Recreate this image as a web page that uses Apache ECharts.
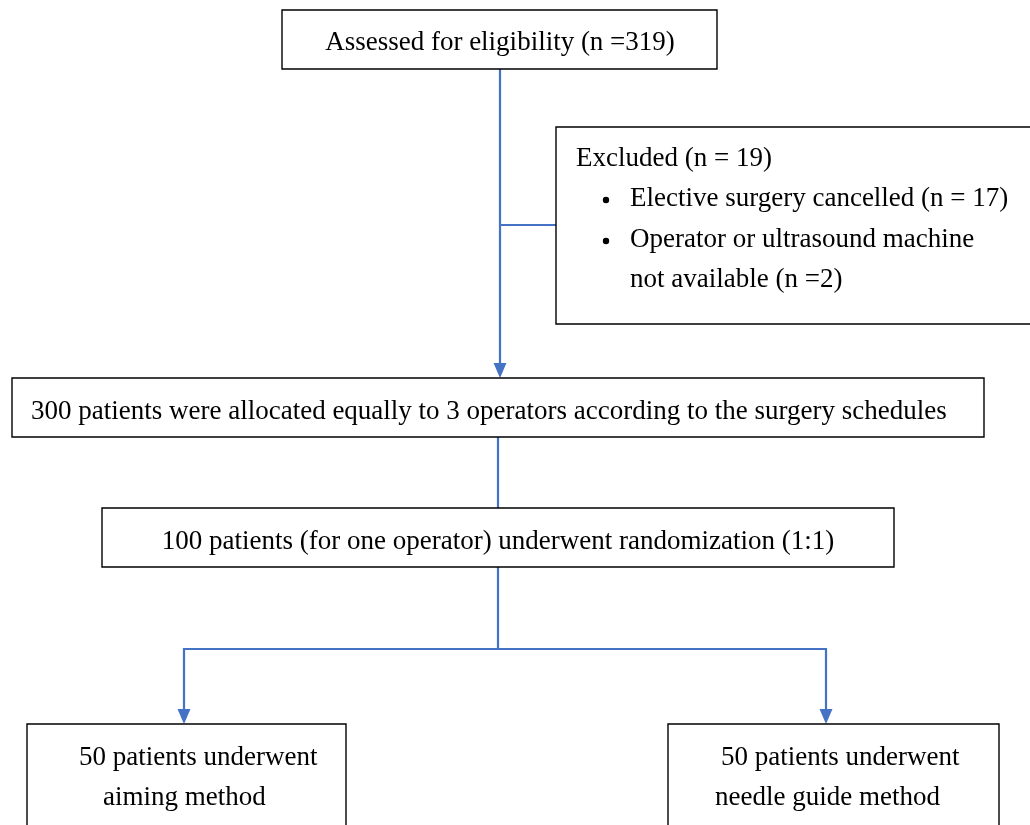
<!DOCTYPE html>
<html>
<head>
<meta charset="utf-8" />
<title>Flow diagram</title>
<script src="https://cdn.jsdelivr.net/npm/echarts@6/dist/echarts.min.js"></script>
<style>
  * { margin: 0; padding: 0; }
  html, body { width: 1030px; height: 825px; background: #fff; overflow: hidden; }
</style>
</head>
<body>
<div id="main" style="width:1030px;height:825px;"></div>
<script type="text/javascript">
// text of each box, one entry per line
const boxText = [
  ['Assessed for eligibility (n =319)'],
  ['Excluded (n = 19)', 'Elective surgery cancelled (n = 17)', 'Operator or ultrasound machine', 'not available (n =2)'],
  ['300 patients were allocated equally to 3 operators according to the surgery schedules'],
  ['100 patients (for one operator) underwent randomization (1:1)'],
  ['50 patients underwent', 'aiming method'],
  ['50 patients underwent', 'needle guide method']
];
// which lines carry a bullet
const bullets = [[], [1, 2], [], [], [], []];

// layout, in the diagram's own units (x right, y down)
const boxRect = [
  [282, 10, 717, 69],
  [556, 127, 1034, 324],
  [12, 378, 984, 437],
  [102, 508, 894, 567],
  [27, 724, 346, 840],
  [668, 724, 999, 840]
];
// where each text line sits: [x, y, align]
const linePos = [
  [[500, 43, 'center']],
  [[576, 159, 'left'], [630, 199, 'left'], [630, 240, 'left'], [630, 280, 'left']],
  [[31, 412, 'left']],
  [[498, 542, 'center']],
  [[79, 758, 'left'], [103, 798, 'left']],
  [[721, 758, 'left'], [715, 798, 'left']]
];
const bulletX = 606;

// connectors: points and whether they end with an arrow
const links = [
  { pts: [[500, 69], [500, 378]], arrow: true },
  { pts: [[500, 225], [556, 225]], arrow: false },
  { pts: [[498, 437], [498, 508]], arrow: false },
  { pts: [[498, 567], [498, 649]], arrow: false },
  { pts: [[498, 649], [184, 649], [184, 724]], arrow: true },
  { pts: [[498, 649], [826, 649], [826, 724]], arrow: true }
];

const FONT = '27px "Liberation Serif", "Times New Roman", serif';
const BLUE = '#4472C4';

const chart = echarts.init(document.getElementById('main'));

function renderBox(params, api) {
  const i = params.dataIndex;
  const r = boxRect[i];
  const p0 = api.coord([r[0], r[1]]);
  const p1 = api.coord([r[2], r[3]]);
  const children = [{
    type: 'rect',
    shape: { x: p0[0], y: p0[1], width: p1[0] - p0[0], height: p1[1] - p0[1] },
    style: { fill: '#fff', stroke: '#000', lineWidth: 1.4 }
  }];
  boxText[i].forEach(function (t, k) {
    const lp = linePos[i][k];
    const c = api.coord([lp[0], lp[1]]);
    children.push({
      type: 'text',
      style: { text: t, x: c[0], y: c[1], font: FONT, fill: '#000', align: lp[2], verticalAlign: 'middle' }
    });
    if (bullets[i].indexOf(k) >= 0) {
      const b = api.coord([bulletX, lp[1]]);
      children.push({ type: 'circle', shape: { cx: b[0], cy: b[1] + 1, r: 3.2 }, style: { fill: '#000' } });
    }
  });
  return { type: 'group', children: children };
}

function renderLink(params, api) {
  const l = links[params.dataIndex];
  const pts = l.pts.map(function (p) { return api.coord(p); });
  const children = [];
  const n = pts.length;
  const end = pts[n - 1].slice();
  const prev = pts[n - 2];
  const ah = 15, aw = 6.5;
  const dx = end[0] - prev[0], dy = end[1] - prev[1];
  const len = Math.sqrt(dx * dx + dy * dy);
  const ux = dx / len, uy = dy / len;
  const linePts = pts.slice();
  if (l.arrow) {
    linePts[n - 1] = [end[0] - ux * (ah - 2), end[1] - uy * (ah - 2)];
    const bx = end[0] - ux * ah, by = end[1] - uy * ah;
    children.push({
      type: 'polygon',
      shape: { points: [end, [bx - uy * aw, by + ux * aw], [bx + uy * aw, by - ux * aw]] },
      style: { fill: BLUE }
    });
  }
  children.unshift({
    type: 'polyline',
    shape: { points: linePts },
    style: { stroke: BLUE, lineWidth: 2.2, fill: null }
  });
  return { type: 'group', children: children };
}

const option = {
  animation: false,
  grid: { left: 0, right: 0, top: 0, bottom: 0 },
  xAxis: { type: 'value', min: 0, max: 1030, show: false },
  yAxis: { type: 'value', min: 0, max: 825, inverse: true, show: false },
  series: [
    {
      type: 'custom',
      renderItem: renderLink,
      data: links.map(function (l, i) { return [i, i]; }),
      encode: { x: 0, y: 1 },
      silent: true,
      clip: false,
      z: 1
    },
    {
      type: 'custom',
      renderItem: renderBox,
      data: boxRect.map(function (r, i) { return [i, i]; }),
      encode: { x: 0, y: 1 },
      silent: true,
      clip: false,
      z: 2
    }
  ]
};
chart.setOption(option);
</script>
</body>
</html>
